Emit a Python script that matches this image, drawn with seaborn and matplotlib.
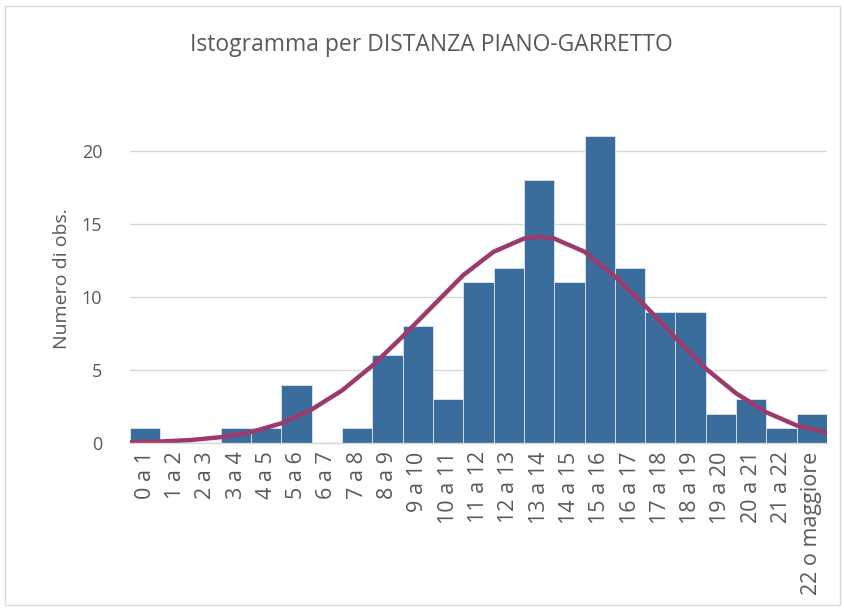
import matplotlib
matplotlib.use('Agg')
import matplotlib.pyplot as plt
import numpy as np
import seaborn as sns

# classi della distanza e frequenze osservate
classi = ['0 a 1', '1 a 2', '2 a 3', '3 a 4', '4 a 5', '5 a 6', '6 a 7', '7 a 8',
          '8 a 9', '9 a 10', '10 a 11', '11 a 12', '12 a 13', '13 a 14', '14 a 15',
          '15 a 16', '16 a 17', '17 a 18', '18 a 19', '19 a 20', '20 a 21', '21 a 22',
          '22 o maggiore']
frequenze = [1, 0, 0, 1, 1, 4, 0, 1, 6, 8, 3, 11, 12, 18, 11, 21, 12, 9, 9, 2, 3, 1, 2]

# curva normale (distanza -> n. obs. attese)
distanza_curva = [0, 1, 2, 3, 4, 5, 6, 7, 8, 9, 10, 11, 12, 13, 13.5, 14,
                  15, 16, 17, 18, 19, 20, 21, 22, 23]
valori_curva = [0.05, 0.1, 0.2, 0.4, 0.75, 1.35, 2.3, 3.6, 5.3, 7.3, 9.4, 11.5,
                13.1, 14.0, 14.13, 14.0, 13.1, 11.4, 9.4, 7.2, 5.1, 3.4, 2.1, 1.2, 0.7]

blu = "#3A6D9C"
viola = "#9C3A6C"
grigio = "#595959"
griglia = "#D9D9D9"

sns.set_style('white')
plt.rcParams['font.family'] = ['Open Sans', 'DejaVu Sans']

fig = plt.figure(figsize=(8.45, 6.1), dpi=100)
ax = fig.add_axes([0.1538, 0.2738, 0.8249, 0.5385])

sns.barplot(x=classi, y=frequenze, order=classi, color=blu, saturation=1,
            width=1, edgecolor='#DCE6F0', linewidth=0.6, ax=ax)
sns.lineplot(x=np.array(distanza_curva) - 0.5, y=valori_curva, color=viola,
             linewidth=3.2, ax=ax)

ax.set_xlim(-0.5, len(classi) - 0.5)
ax.set_ylim(0, 22.5)
ax.set_yticks([0, 5, 10, 15, 20])
ax.yaxis.grid(True, color=griglia, linewidth=1)
ax.set_axisbelow(True)

for lato in ['top', 'right', 'left']:
    ax.spines[lato].set_visible(False)
ax.spines['bottom'].set_color(griglia)
ax.spines['bottom'].set_linewidth(1)

ax.tick_params(axis='y', length=0, labelsize=13, labelcolor=grigio, pad=20)
ax.tick_params(axis='x', length=0, labelsize=15.5, labelcolor=grigio,
               labelrotation=90, pad=6)
ax.set_xticks(np.arange(-0.5, len(classi)), minor=True)
ax.tick_params(axis='x', which='minor', length=4, color=griglia)

ax.set_ylabel('Numero di obs.', fontsize=14, color=grigio, labelpad=8)
ax.set_xlabel('')

fig.text(0.511, 0.926, 'Istogramma per DISTANZA PIANO-GARRETTO', ha='center',
         va='center', fontsize=16.5, color=grigio)

# bordo dell'area del grafico
fig.patches.append(plt.Rectangle((0.006, 0.008), 0.988, 0.982, transform=fig.transFigure,
                                 fill=False, edgecolor=griglia, linewidth=1))

fig.savefig('out.png', dpi=100)
